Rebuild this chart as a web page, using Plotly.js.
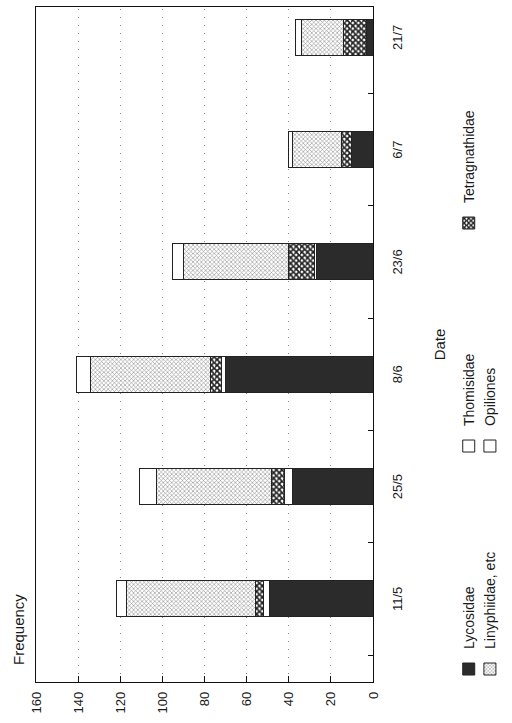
<!DOCTYPE html>
<html><head><meta charset="utf-8">
<script src="https://cdn.plot.ly/plotly-3.0.1.min.js"></script>
<style>
html,body{margin:0;padding:0;width:512px;height:723px;overflow:hidden;background:#fff;}
#chart{position:absolute;left:0;top:0;width:723px;height:512px;transform-origin:0 0;transform:translateY(723px) rotate(-90deg);}
</style></head><body><div id="chart"></div>
<script>
const dates = ['11/5', '25/5', '8/6', '23/6', '6/7', '21/7'];
const lycosidae = [49, 38, 70, 27, 10, 3];
const thomisidae = [3, 4, 2, 1, 0, 0];
const tetragnathidae = [4, 6, 5, 12, 5, 11];
const linyphiidae = [61, 55, 57, 50, 23, 20];
const opiliones = [5, 8, 7, 5, 2, 3];
const valueTicks = [0, 20, 40, 60, 80, 100, 120, 140, 160];

const FONT = 'Liberation Sans, Arial, sans-serif';
const line = {color: '#222', width: 1};
function bar(name, vals, marker) {
  return {type: 'bar', name: name, x: dates, y: vals, width: 0.32,
    marker: Object.assign({line: line}, marker)};
}
const traces = [
  bar('Lycosidae', lycosidae, {color: '#2b2b2b'}),
  bar('Thomisidae', thomisidae, {color: '#ffffff'}),
  bar('Tetragnathidae', tetragnathidae, {color: '#ffffff', pattern: {shape: 'x', fgcolor: '#1e1e1e', bgcolor: '#fff', size: 4, solidity: 0.65}}),
  bar('Linyphiidae, etc', linyphiidae, {color: '#ffffff', pattern: {shape: 'x', fgcolor: '#8c8c8c', bgcolor: '#fff', size: 3, solidity: 0.35}}),
  bar('Opiliones', opiliones, {color: '#ffffff'})
];

const layout = {
  width: 723, height: 512,
  margin: {l: 41, r: 7, t: 36, b: 139, autoexpand: false},
  paper_bgcolor: '#fff', plot_bgcolor: '#fff',
  font: {family: FONT, size: 13, color: '#1a1a1a'},
  barmode: 'stack',
  showlegend: true,
  xaxis: {
    type: 'category', range: [-0.74, 5.27], automargin: false,
    showline: true, mirror: true, linecolor: '#111', linewidth: 1.2,
    ticks: 'inside', tickson: 'boundaries', ticklen: 5, tickcolor: '#111',
    ticklabelstandoff: 12, showgrid: false,
    title: {text: 'Date', font: {size: 15}, standoff: 30}
  },
  yaxis: {
    range: [0, 160], tickvals: valueTicks, ticktext: valueTicks.map(String),
    automargin: false,
    showline: true, mirror: true, linecolor: '#111', linewidth: 1.2,
    ticks: 'inside', ticklen: 6, tickcolor: '#111', ticklabelstandoff: 6,
    showgrid: true, gridcolor: '#8a8a8a', griddash: '1px,7px', gridwidth: 1,
    zeroline: false
  },
  legend: {
    orientation: 'h', xref: 'container', yref: 'container',
    x: 0.047, xanchor: 'left', y: 0.115, yanchor: 'top',
    entrywidth: 178, entrywidthmode: 'pixels', traceorder: 'normal',
    font: {size: 14}, bgcolor: 'rgba(0,0,0,0)'
  },
  annotations: [{
    text: 'Frequency', xref: 'paper', yref: 'paper', x: 0.022, y: 1.053,
    xanchor: 'left', yanchor: 'middle', showarrow: false, font: {size: 15}
  }]
};
Plotly.newPlot('chart', traces, layout, {staticPlot: true, displayModeBar: false});
</script></body></html>
